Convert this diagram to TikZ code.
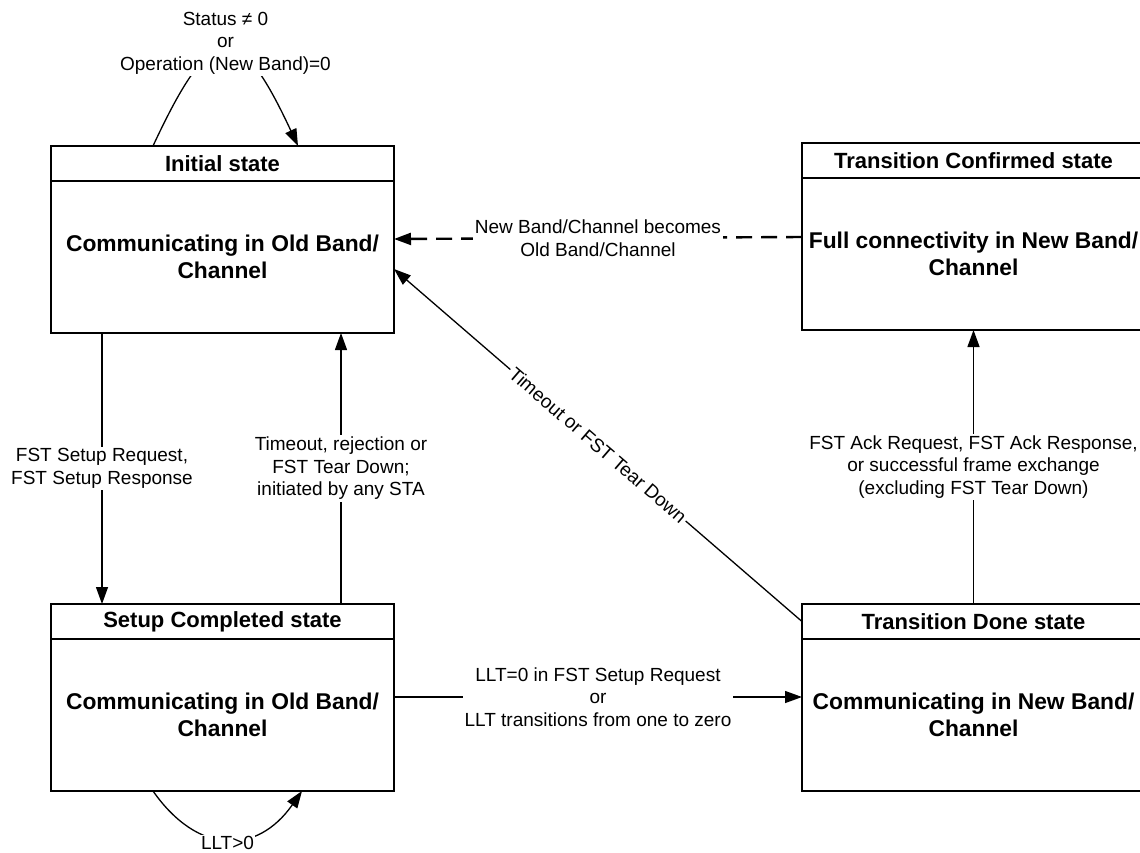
\documentclass[tikz,border=0pt]{standalone}
\usepackage{fontspec}
\setmainfont{Liberation Sans}
\usetikzlibrary{arrows.meta, positioning}
\tikzset{
	hdr/.style   ={rectangle, draw=black, line width=1.8pt, minimum width=343pt, minimum height=35pt, inner sep=0pt, outer sep=0pt, anchor=north west, font=\fontsize{22}{26}\selectfont\bfseries},
	stbody/.style={rectangle, draw=black, line width=1.8pt, minimum width=343pt, minimum height=152pt, inner sep=0pt, outer sep=0pt, align=center, font=\fontsize{22.8}{27}\selectfont\bfseries},
	lbl/.style   ={fill=white, align=center, inner sep=2pt, font=\fontsize{19}{22.5}\selectfont},
	sig/.style   ={-{Triangle[length=17pt, width=12pt]}, line width=1.3pt},
	dsig/.style  ={sig, line width=2.4pt, dash pattern=on 16pt off 9pt},
}
\begin{document}
\begin{tikzpicture}[x=1pt, y=-1pt]
	\useasboundingbox (0,0) rectangle (1140,852);
	% states
	\node[hdr] (initHd) at (51,146) {Initial state};
	\node[stbody, below=0pt of initHd] (init) {Communicating in Old Band/\\ Channel};
	\node[hdr] (confHd) at (802,143) {Transition Confirmed state};
	\node[stbody, below=0pt of confHd] (conf) {Full connectivity in New Band/\\ Channel};
	\node[hdr] (setupHd) at (51,604) {Setup Completed state};
	\node[stbody, below=0pt of setupHd] (setup) {Communicating in Old Band/\\ Channel};
	\node[hdr] (doneHd) at (802,604) {Transition Done state};
	\node[stbody, below=0pt of doneHd] (done) {Communicating in New Band/\\ Channel};
	% transitions
	\draw[sig] ([xshift=102pt]initHd.north west) to[out=65, in=115, looseness=2.5]
		node[lbl, pos=0.5, yshift=7pt] {Status ≠ 0\\ or\\ Operation (New Band)=0} ([xshift=247pt]initHd.north west);
	\draw[sig] ([xshift=51pt]init.south west) -- node[lbl] {FST Setup Request,\\ FST Setup Response} ([xshift=51pt]setupHd.north west);
	\draw[sig] ([xshift=290pt]setupHd.north west) -- node[lbl] {Timeout, rejection or\\ FST Tear Down;\\ initiated by any STA} ([xshift=290pt]init.south west);
	\draw[dsig] ([yshift=17pt]conf.west) -- node[lbl] {New Band/Channel becomes\\ Old Band/Channel} ([yshift=18pt]init.east);
	\draw[sig] (doneHd.west) -- node[lbl, sloped] {Timeout or FST Tear Down} ([yshift=-12pt]init.east);
	\draw[sig] (doneHd.north) -- node[lbl] {FST Ack Request, FST Ack Response,\\ or successful frame exchange\\ (excluding FST Tear Down)} (conf.south);
	\draw[sig] ([yshift=18pt]setup.east) -- node[lbl] {LLT=0 in FST Setup Request\\ or\\ LLT transitions from one to zero} ([yshift=18pt]done.west);
	\draw[sig] ([xshift=102pt]setup.south west) to[out=-55, in=-125, looseness=1.35]
		node[lbl, pos=0.5, inner sep=1pt, yshift=-4pt] {LLT>0} ([xshift=251pt]setup.south west);
\end{tikzpicture}
\end{document}
